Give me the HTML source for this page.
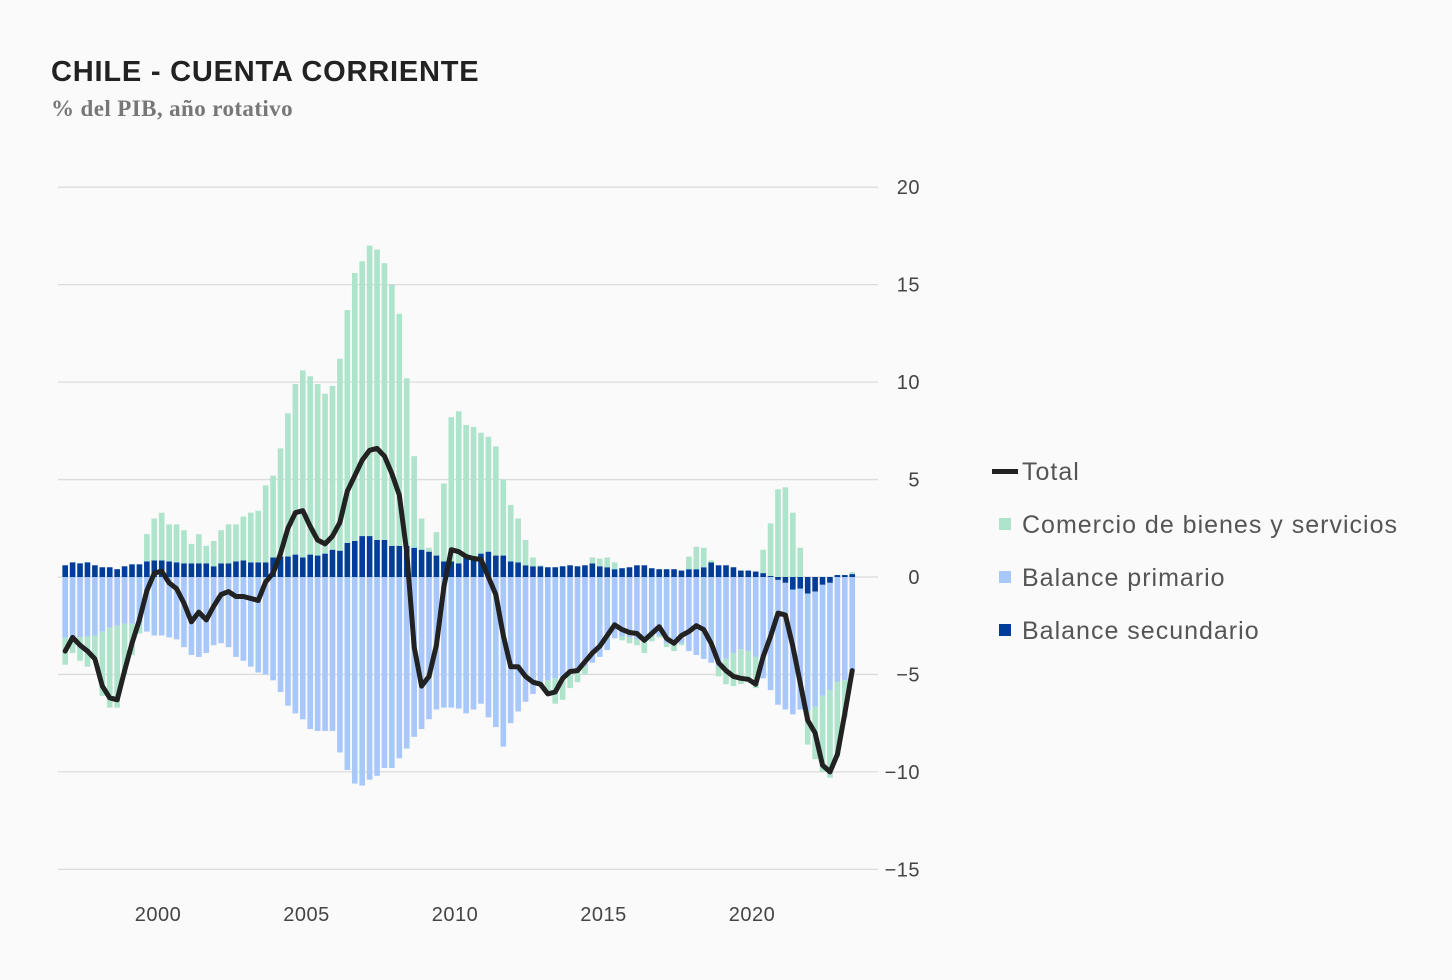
<!DOCTYPE html>
<html><head><meta charset="utf-8"><style>
body{margin:0;background:#fafafa;width:1452px;height:980px;overflow:hidden;font-family:"Liberation Sans",sans-serif}
svg{position:absolute;left:0;top:0}
</style></head><body>
<svg id="chart" width="1452" height="980" xmlns="http://www.w3.org/2000/svg">
<rect width="1452" height="980" fill="#fafafa"/>
<text x="51" y="81" font-family="Liberation Sans, sans-serif" font-weight="bold" font-size="29" letter-spacing="0.8" fill="#222">CHILE - CUENTA CORRIENTE</text>
<text x="51" y="116" font-family="Liberation Serif, serif" font-weight="bold" font-size="23" letter-spacing="0.4" fill="#777">% del PIB, año rotativo</text>
<g id="grid"></g><g id="bars"></g><g id="line"></g><g id="axes"></g>
<g font-family="Liberation Sans, sans-serif" font-size="25" letter-spacing="1" fill="#555">
<g><rect x="992" y="469" width="26" height="5" fill="#222"/><text x="1022" y="480">Total</text></g>
<g><rect x="999" y="518" width="12" height="12" fill="#aee3cc"/><text x="1022" y="533">Comercio de bienes y servicios</text></g>
<g><rect x="999" y="571" width="12" height="12" fill="#a8c8fc"/><text x="1022" y="586">Balance primario</text></g>
<g><rect x="999" y="624" width="12" height="12" fill="#003d99"/><text x="1022" y="639">Balance secundario</text></g>
</g>
</svg>
<script>
const startYear = 1996.875;
const trade = [-1.4,-0.8,-1.2,-1.55,-1.1,-3.3,-4.1,-4.2,-2.6,-1.6,-0.4,
1.4,2.15,2.45,1.9,1.95,1.7,1.0,1.5,0.9,1.3,1.7,2.0,1.9,2.25,2.55,2.65,3.95,4.2,5.55,7.35,8.75,
9.6,9.15,8.8,8.2,8.4,9.85,11.95,13.75,14.1,14.9,14.9,14.2,13.4,11.9,8.6,4.7,1.6,0.2,1.2,4.0,7.4,7.8,6.65,6.7,6.2,5.9,5.6,3.9,2.9,2.25,1.3,0.45,0.05,-0.6,-1.3,-1.2,-0.8,
-0.6,-0.4,0.3,0.4,0.5,0.35,-0.2,-0.3,-0.3,-0.6,-0.3,-0.1,-0.2,-0.3,-0.1,0.65,1.15,1.0,0.1,-0.5,-1.3,-1.7,-1.8,-1.6,-1.6,1.2,2.7,4.5,4.6,3.3,1.5,-1.75,-2.7,-3.9,-4.5,-3.8,-1.9,0.1];
const primary = [-3.1,-3.1,-3.1,-3.05,-3.0,-2.8,-2.6,-2.5,-2.4,-2.4,-2.5,
-2.8,-3.0,-3.0,-3.1,-3.2,-3.6,-4.0,-4.1,-3.9,-3.5,-3.4,-3.6,-4.1,-4.3,-4.6,-4.9,-5.0,-5.3,-5.9,-6.6,-7.0,
-7.3,-7.8,-7.9,-7.9,-7.9,-9.0,-9.9,-10.6,-10.7,-10.4,-10.2,-9.8,-9.8,-9.3,-8.8,-8.2,-7.8,-7.3,-6.8,-6.7,-6.7,-6.75,-7.0,-6.8,-6.5,-7.2,-7.7,-8.7,-7.5,-6.9,-6.4,-6.0,-5.6,-5.3,-5.2,-5.1,-4.9,
-4.8,-4.6,-4.4,-4.1,-3.75,-3.15,-3.05,-3.1,-3.2,-3.3,-3.0,-3.0,-3.4,-3.5,-3.4,-3.8,-4.0,-4.2,-4.4,-4.6,-4.2,-3.9,-3.7,-3.8,-4.1,-5.2,-5.8,-6.4,-6.5,-6.4,-6.2,-6.0,-5.9,-5.7,-5.5,-5.4,-5.3,-4.8];
const secondary = [0.6,0.75,0.7,0.75,0.6,0.5,0.5,0.4,0.55,0.65,0.65,
0.8,0.85,0.85,0.8,0.75,0.7,0.7,0.7,0.7,0.55,0.7,0.7,0.8,0.85,0.75,0.75,0.75,1.0,1.05,1.05,1.15,
1.0,1.15,1.1,1.2,1.4,1.35,1.75,1.85,2.1,2.1,1.9,1.9,1.6,1.6,1.6,1.5,1.4,1.3,1.1,0.8,0.8,0.7,1.15,1.0,1.2,1.3,1.1,1.1,0.8,0.75,0.6,0.55,0.55,0.5,0.5,0.55,0.6,
0.55,0.6,0.7,0.55,0.5,0.4,0.45,0.5,0.6,0.6,0.45,0.4,0.4,0.4,0.33,0.4,0.4,0.5,0.75,0.6,0.6,0.5,0.33,0.33,0.28,0.2,0.05,-0.15,-0.3,-0.65,-0.6,-0.85,-0.75,-0.4,-0.3,0.1,0.1,0.15];
const total = [-3.8,-3.1,-3.5,-3.8,-4.2,-5.6,-6.2,-6.3,-4.8,-3.4,
-2.2,-0.7,0.2,0.3,-0.3,-0.6,-1.35,-2.3,-1.8,-2.2,-1.5,-0.9,-0.75,-1.0,-1.0,-1.1,-1.2,-0.25,0.2,1.2,2.5,3.3,
3.4,2.6,1.9,1.7,2.1,2.8,4.4,5.2,6.0,6.5,6.6,6.2,5.3,4.2,1.3,-3.6,-5.6,-5.1,-3.5,-0.5,1.4,1.3,1.05,0.95,0.9,0.0,-0.9,-3.0,-4.6,-4.6,-5.1,-5.4,-5.5,-6.0,-5.9,-5.2,-4.85,
-4.8,-4.35,-3.9,-3.55,-3.0,-2.45,-2.7,-2.85,-2.9,-3.25,-2.9,-2.55,-3.15,-3.4,-3.0,-2.8,-2.5,-2.7,-3.4,-4.4,-4.8,-5.1,-5.2,-5.25,-5.5,-4.1,-3.05,-1.85,-1.95,-3.55,-5.45,-7.35,-8.0,-9.65,-10.0,-9.1,-7.0,-4.8];
const yTicks = [20,15,10,5,0,-5,-10,-15];
const xTicks = [2000,2005,2010,2015,2020];

const NS = "http://www.w3.org/2000/svg";
const y = v => 577 - v * 19.49;
const x = yr => 158 + (yr - 2000) * 29.7;
const xi = i => x(startYear + i * 0.25);
function mk(tag, attrs, parent) { const e = document.createElementNS(NS, tag); for (const k in attrs) e.setAttribute(k, attrs[k]); parent.appendChild(e); return e; }
const grid = document.getElementById('grid'), bars = document.getElementById('bars'), line = document.getElementById('line'), axes = document.getElementById('axes');
yTicks.forEach(t => {
  const g = mk('line', {x1:58, x2:878, y1:y(t), y2:y(t), stroke:'#dcdcdc', 'stroke-width':1.3}, grid);
  
  
  const tx = mk('text', {x:920, y:y(t)+7, 'text-anchor':'end', 'font-size':20, 'letter-spacing':0.5, fill:'#444', 'font-family':'Liberation Sans, sans-serif'}, axes);
  tx.textContent = String(t).replace('-', '−');
  
  
});
xTicks.forEach(t => {
  const tx = mk('text', {x:x(t), y:921, 'text-anchor':'middle', 'font-size':20, 'letter-spacing':0.5, fill:'#444', 'font-family':'Liberation Sans, sans-serif'}, axes);
  tx.textContent = t;
  
  
});
const W = 5.6;
for (let i = 0; i < total.length; i++) {
  let pos = 0, neg = 0;
  const parts = [[primary[i], '#a8c8fc', 'bar-primario'], [secondary[i], '#003d99', 'bar-secundario'], [trade[i], '#aee3cc', 'bar-comercio']];
  const order = [parts[1], parts[0], parts[2]];
  order.forEach(([v, c, n]) => {
    let y0, y1;
    if (v >= 0) { y0 = pos; y1 = pos + v; pos = y1; } else { y0 = neg; y1 = neg + v; neg = y1; }
    const r = mk('rect', {x:xi(i)-W/2, y:Math.min(y(y0), y(y1)), width:W, height:Math.abs(y(y1)-y(y0)), fill:c}, bars);
    
    
  });
}
const pts = total.map((v, i) => xi(i).toFixed(1) + ',' + y(v).toFixed(1)).join(' ');
const pl = mk('polyline', {points:pts, fill:'none', stroke:'#222', 'stroke-width':5, 'stroke-linejoin':'round', 'stroke-linecap':'round'}, line);


</script>
</body></html>
